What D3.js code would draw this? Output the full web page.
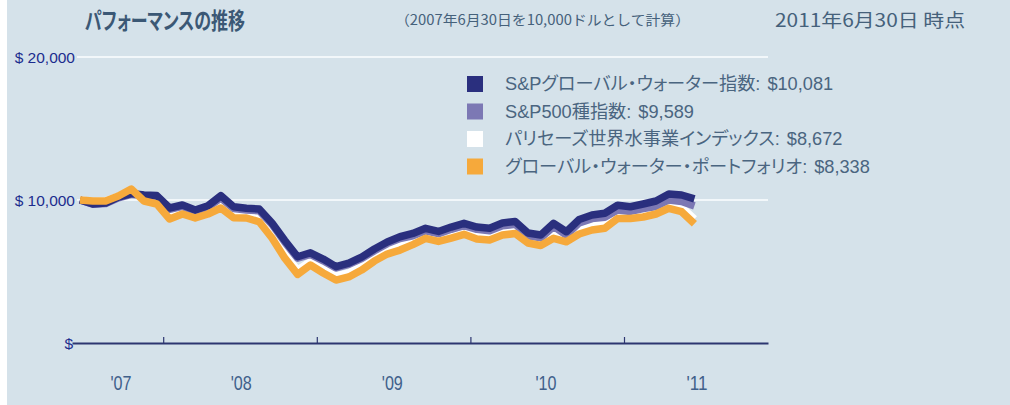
<!DOCTYPE html>
<html>
<head>
<meta charset="utf-8">
<script src="https://cdn.jsdelivr.net/npm/d3@7"></script>
<style>
  html, body { margin: 0; padding: 0; background: #ffffff; }
  svg { display: block; }
  .jp { font-feature-settings: "palt"; }
</style>
</head>
<body>
<div id="chart"></div>
<script>
// monthly values, Jun 2007 .. Jun 2011 (index 0 = 2007-06-30)
const globalWaterIndex = [10000, 9720, 9790, 10200, 10450, 10350, 10310, 9440, 9650, 9300, 9600, 10300, 9530, 9420, 9370, 8390, 7170, 6030, 6310, 5870, 5340, 5590, 6010, 6570, 7060, 7430, 7660, 8020, 7800, 8110, 8370, 8110, 8020, 8390, 8500, 7690, 7550, 8370, 7780, 8640, 8950, 9070, 9630, 9530, 9720, 9930, 10420, 10350, 10081]
const sp500 = [10000, 9700, 9750, 10150, 10400, 10300, 10250, 9350, 9550, 9200, 9500, 10150, 9400, 9300, 9250, 8300, 7050, 5930, 6200, 5750, 5250, 5500, 5900, 6450, 6950, 7300, 7500, 7850, 7650, 7950, 8200, 7950, 7850, 8200, 8300, 7500, 7350, 8150, 7550, 8400, 8700, 8800, 9300, 9200, 9400, 9550, 10000, 9900, 9589]
const palisadesWater = [10000, 9900, 9950, 10250, 10700, 10000, 9850, 8900, 9200, 8950, 9250, 9750, 9000, 8950, 8700, 7600, 6200, 5100, 5700, 5200, 4700, 4900, 5400, 6000, 6500, 6800, 7150, 7600, 7400, 7650, 7900, 7550, 7500, 7850, 7950, 7300, 7150, 7650, 7400, 7950, 8250, 8350, 9050, 9050, 9150, 9350, 9750, 9500, 8672]
const waterPortfolio = [10000, 9930, 9930, 10280, 10770, 9930, 9720, 8670, 9020, 8740, 9020, 9440, 8760, 8740, 8480, 7340, 5930, 4800, 5450, 4900, 4400, 4620, 5100, 5730, 6220, 6500, 6880, 7320, 7100, 7340, 7600, 7270, 7200, 7550, 7660, 6990, 6820, 7320, 7080, 7620, 7900, 8020, 8710, 8700, 8810, 9020, 9420, 9180, 8338]

const seriesNames = ['S&Pグローバル・ウォーター指数', 'S&P500種指数', 'パリセーズ世界水事業インデックス', 'グローバル・ウォーター・ポートフォリオ']
const seriesFinal = ['$10,081', '$9,589', '$8,672', '$8,338']
const seriesColors = ['#2a2f7e', '#7c78b4', '#ffffff', '#f6a93b']

const yTicks = [0, 10000, 20000]
const yTickLabels = ['$', '$ 10,000', '$ 20,000']
const yearTicks = [6.5, 18.5, 30.5, 42.5]          // year boundaries (month index)
const yearLabelPos = [3.2, 12.6, 24.4, 36.4, 48.2]
const yearLabels = ["'07", "'08", "'09", "'10", "'11"]

const W = 1010
const H = 405
const jp = '"Noto Sans CJK JP", "Noto Sans", sans-serif'
const latin = '"Liberation Sans", "Noto Sans CJK JP", sans-serif'

const svg = d3.select('#chart')
  .append('svg')
  .attr('width', W)
  .attr('height', H)
  .attr('viewBox', `0 0 ${W} ${H}`)

svg.append('rect').attr('width', W).attr('height', H).attr('fill', '#d5e2ea')
svg.append('rect').attr('width', 7).attr('height', H).attr('fill', '#ffffff')

const x = d3.scaleLinear().domain([-0.625, 53.75]).range([72, 768])
const y = d3.scaleLinear().domain([0, 20000]).range([343, 57])

// header
svg.append('text')
  .attr('class', 'jp')
  .attr('x', 85).attr('y', 29)
  .attr('font-family', jp).attr('font-weight', 'bold').attr('font-size', 23)
  .attr('textLength', 160).attr('lengthAdjust', 'spacingAndGlyphs')
  .attr('fill', '#3b5875')
  .text('パフォーマンスの推移')

svg.append('text')
  .attr('x', 395).attr('y', 25)
  .attr('font-family', jp).attr('font-size', 14)
  .attr('textLength', 295).attr('lengthAdjust', 'spacingAndGlyphs')
  .attr('fill', '#45617b')
  .text('（2007年6月30日を10,000ドルとして計算）')

svg.append('text')
  .attr('x', 775).attr('y', 27)
  .attr('font-family', jp).attr('font-size', 18)
  .attr('textLength', 190).attr('lengthAdjust', 'spacingAndGlyphs')
  .attr('fill', '#45617b')
  .text('2011年6月30日 時点')

// grid lines
svg.append('g')
  .selectAll('line')
  .data(yTicks.filter((d) => d > 0))
  .enter()
  .append('line')
  .attr('x1', 77).attr('x2', 768)
  .attr('y1', (d) => y(d)).attr('y2', (d) => y(d))
  .attr('stroke', '#f2f7fa')
  .attr('stroke-width', 2)

// y labels
svg.append('g')
  .selectAll('text')
  .data(yTicks)
  .enter()
  .append('text')
  .attr('x', (d) => d === 0 ? 73 : 75)
  .attr('y', (d) => y(d) + 6)
  .attr('text-anchor', 'end')
  .attr('font-family', latin)
  .attr('font-size', 15.5)
  .attr('fill', '#1c2c8e')
  .text((d, i) => yTickLabels[i])

// x axis
const xAxis = svg.append('g')
  .attr('class', 'axis is-x')
  .attr('transform', `translate(0, ${y(0)})`)
  .call(d3.axisTop(x).tickValues(yearTicks).tickSize(6).tickSizeOuter(0).tickFormat(''))

xAxis.select('.domain').attr('stroke', '#2d3670').attr('stroke-width', 2)
xAxis.selectAll('.tick line').attr('stroke', '#2d3670').attr('stroke-width', 1.2)

svg.append('g')
  .selectAll('text')
  .data(yearLabelPos)
  .enter()
  .append('text')
  .attr('x', (d) => x(d))
  .attr('y', 390)
  .attr('text-anchor', 'middle')
  .attr('font-family', '"Liberation Sans Narrow", "Liberation Sans", sans-serif')
  .attr('font-size', 21)
  .attr('textLength', 21).attr('lengthAdjust', 'spacingAndGlyphs')
  .attr('fill', '#40608a')
  .text((d, i) => yearLabels[i])

// lines (draw order: white, purple, navy, orange)
const allSeries = [globalWaterIndex, sp500, palisadesWater, waterPortfolio]
const line = d3.line()
  .x((d, i) => x(i))
  .y((d) => y(d))

const drawOrder = [2, 1, 0, 3]
svg.append('g')
  .selectAll('path')
  .data(drawOrder)
  .enter()
  .append('path')
  .attr('d', (k) => line(allSeries[k]))
  .attr('fill', 'none')
  .attr('stroke', (k) => seriesColors[k])
  .attr('stroke-width', 7.5)
  .attr('stroke-linejoin', 'round')
  .attr('stroke-linecap', 'butt')

// legend
const legend = svg.append('g')
  .selectAll('g')
  .data(seriesNames)
  .enter()
  .append('g')
  .attr('transform', (d, i) => `translate(467, ${84 + i * 27.5})`)

legend.append('rect')
  .attr('x', 0).attr('y', -8)
  .attr('width', 16).attr('height', 16)
  .attr('fill', (d, i) => seriesColors[i])

const legendText = legend.append('text')
  .attr('class', 'jp')
  .attr('x', 38).attr('y', 6)
  .attr('font-family', latin)
  .attr('font-size', 18.2)
  .attr('fill', '#4a6580')

legendText.append('tspan').text((d) => d + ':')
legendText.append('tspan').attr('dx', 7).text((d, i) => seriesFinal[i])
</script>
</body>
</html>
